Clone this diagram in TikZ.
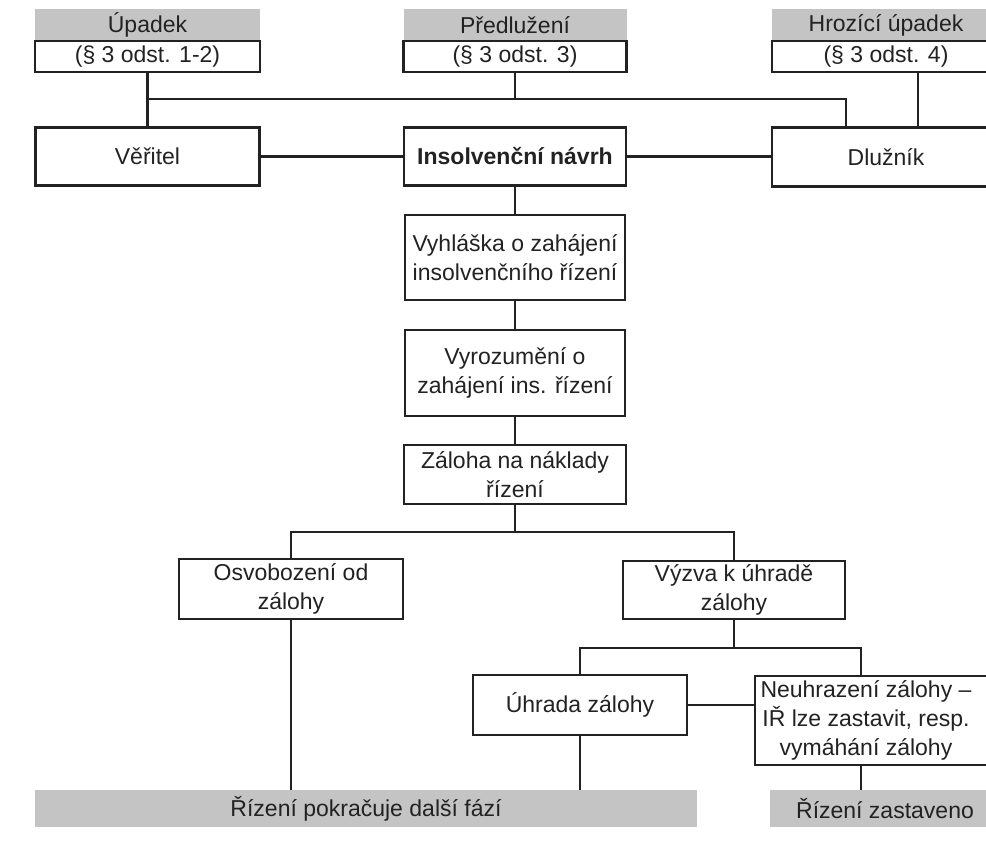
\documentclass[tikz,border=0pt]{standalone}
\usepackage{fontspec}
\setmainfont{Liberation Sans}
\definecolor{ink}{HTML}{222222}
\definecolor{bar}{HTML}{C4C4C4}
\begin{document}
\begin{tikzpicture}[x=1pt,y=-1pt,
  every node/.style={text=ink, font=\fontsize{23}{29}\selectfont},
  box/.style={draw=ink, line width=2.8pt, fill=white, inner sep=0pt, align=center},
  greybar/.style={fill=bar, draw=none, inner sep=0pt, align=center},
  txt/.style={inner sep=0pt, align=center},
  conn/.style={draw=ink, line width=2.4pt}]
\useasboundingbox[fill=white] (0,0) rectangle (986,847);

% headers
\node[greybar, minimum width=225, minimum height=32] (upadH) at (147.5,25) {Úpadek};
\node[box, minimum width=225, minimum height=31] (upadS) at (147.5,56.5) {(§ 3 odst. 1-2)};
\node[greybar, minimum width=223, minimum height=32] (predH) at (515,25) {Předlužení};
\node[box, minimum width=223, minimum height=31] (predS) at (515,56.5) {(§ 3 odst. 3)};
\node[greybar, minimum width=228, minimum height=32] (hrozH) at (886,25) {Hrozící úpadek};
\node[box, minimum width=228, minimum height=31] (hrozS) at (886,56.5) {(§ 3 odst. 4)};

% second row
\node[box, minimum width=224, minimum height=58] (ver) at (147.5,156.5) {Věřitel};
\node[box, minimum width=222, minimum height=58, font=\fontsize{23}{29}\selectfont\bfseries] (ins) at (515,156.5) {Insolvenční návrh};
\node[box, minimum width=228, minimum height=59] (dluz) at (886,157) {Dlužník};

% central column
\node[box, minimum width=220, minimum height=85] (vyh) at (515,257.5) {Vyhláška o zahájení\\insolvenčního řízení};
\node[box, minimum width=220, minimum height=86] (vyr) at (515,373) {Vyrozumění o\\zahájení ins. řízení};
\node[box, minimum width=222, minimum height=59] (zal) at (515,474.5) {Záloha na náklady\\řízení};

% branches
\node[box, minimum width=224, minimum height=60] (osv) at (291,589) {Osvobození od\\zálohy};
\node[box, minimum width=222, minimum height=58] (vyz) at (734,590) {Výzva k úhradě\\zálohy};
\node[box, minimum width=214, minimum height=60] (uhr) at (580,705) {Úhrada zálohy};
\node[box, minimum width=245, minimum height=89] (neuh) at (877.5,720.5) {};
\node[txt] (neuht) at (866,720.5) {Neuhrazení zálohy –\\IŘ lze zastavit, resp.\\vymáhání zálohy};

% bottom bars
\node[greybar, minimum width=662, minimum height=37] (pok) at (366,808.5) {Řízení pokračuje další fází};
\node[greybar, minimum width=230, minimum height=37] (zast) at (885,808.5) {Řízení zastaveno};

% helper coordinates
\coordinate (topline) at (0,99);
\coordinate (br1) at (0,532);
\coordinate (br2) at (0,648);
\coordinate (nx) at (861,0);

% connectors top
\draw[conn] (upadS.south) -- (ver.north);
\draw[conn] (upadS.south |- topline) -| ([xshift=-40pt]dluz.north);
\draw[conn] (predS.south) -- (predS.south |- topline);
\draw[conn] ([xshift=32pt]hrozS.south) -- ([xshift=32pt]dluz.north);
\draw[conn] (ver.east) -- (ins.west);
\draw[conn] (ins.east) -- (ins.east -| dluz.west);

% central column
\draw[conn] (ins.south) -- (vyh.north);
\draw[conn] (vyh.south) -- (vyr.north);
\draw[conn] (vyr.south) -- (zal.north);
\draw[conn] (zal.south) -- (zal.south |- br1);
\draw[conn] (osv.north) -- (osv.north |- br1) -- (vyz.north |- br1) -- (vyz.north);

% right branch
\draw[conn] (vyz.south) -- (vyz.south |- br2);
\draw[conn] (uhr.north) -- (uhr.north |- br2) -- (nx |- br2) -- (nx |- neuh.north);
\draw[conn] (uhr.east) -- (uhr.east -| neuh.west);

% to bottom
\draw[conn] (osv.south) -- (osv.south |- pok.north);
\draw[conn] (uhr.south) -- (uhr.south |- pok.north);
\draw[conn] (nx |- neuh.south) -- (nx |- zast.north);
\end{tikzpicture}
\end{document}
